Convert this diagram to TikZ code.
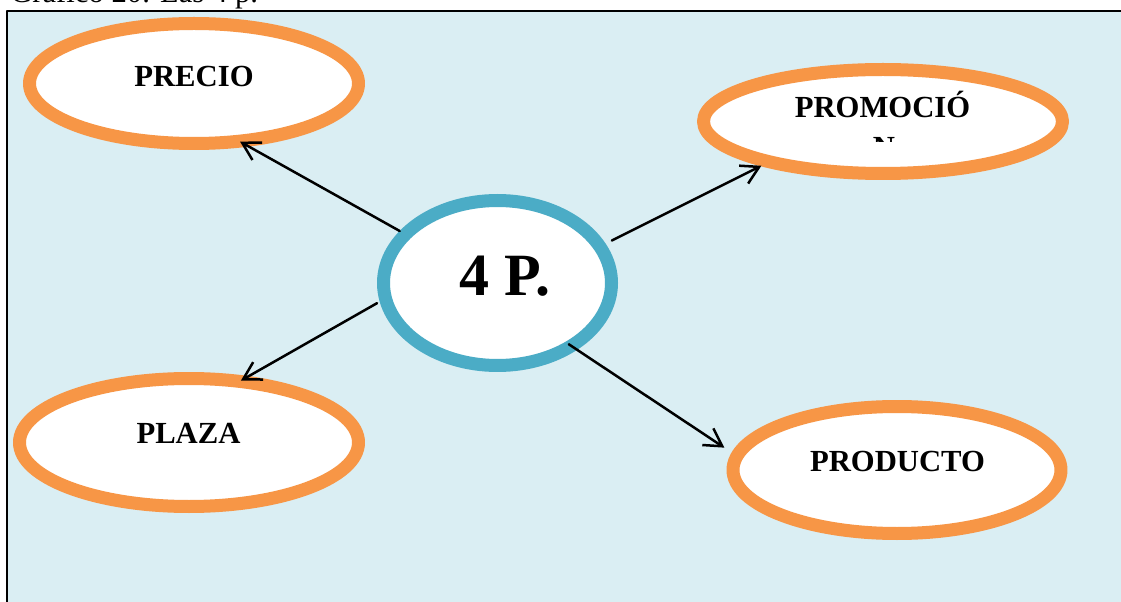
\documentclass[tikz,border=0pt]{standalone}
\usepackage{fontspec}
\setmainfont{Liberation Serif}
\usetikzlibrary{shapes.geometric,arrows.meta}
\definecolor{azulp}{HTML}{4BACC6}
\definecolor{naranja}{HTML}{F79646}
\definecolor{fondo}{HTML}{DAEEF3}
\newlength\pxu
\setlength\pxu{0.75pt}

\begin{document}
\begin{tikzpicture}[x=0.75pt, y=-0.75pt, line join=round,
	pe/.style={ellipse, draw=naranja, line width=13\pxu, fill=white, inner sep=0pt},
	centro/.style={ellipse, draw=azulp, line width=13\pxu, fill=white, inner sep=0pt,
		minimum width=228\pxu, minimum height=165\pxu},
	rotulo/.style={anchor=base, inner sep=0pt, font=\bfseries\fontsize{23}{28}\selectfont},
	flecha/.style={line width=2.5\pxu, line cap=round, -{Straight Barb[length=13pt, width=15pt]}}]
	
	\clip (0,0) rectangle (1121,602);
	
	% titulo y marco
	\node[anchor=base west, inner sep=0pt, font=\fontsize{23}{28}\selectfont] (titulo) at (10,3) {Gráfico 20. Las 4 p.};
	\filldraw[fill=fondo, draw=black, line width=2\pxu] (7,11) rectangle (1135,615);
	
	% elipses
	\node[pe, minimum width=329\pxu, minimum height=120\pxu] (precio) at (194,83.5) {};
	\node[pe, minimum width=359\pxu, minimum height=104\pxu] (promocion) at (883,121.5) {};
	\node[pe, minimum width=339\pxu, minimum height=128\pxu] (plaza) at (189,442.5) {};
	\node[pe, minimum width=328\pxu, minimum height=127\pxu] (producto) at (897,470) {};
	\node[centro] (cuatro) at (497.5,283) {};
	
	% textos
	\node[rotulo] (precio-t) at (194,87) {PRECIO};
	\node[rotulo] (plaza-t) at (188.5,443) {PLAZA};
	\node[rotulo] (producto-t) at (897.5,471.5) {PRODUCTO};
	\node[rotulo, font=\bfseries\fontsize{45}{54}\selectfont] (cuatro-t) at (505,296) {4 P.};
	\begin{scope}
		\clip (700,60) rectangle (1065,142);
		\node[rotulo] (promocion-t) at (882.5,118) {PROMOCIÓ};
		\node[rotulo] (promocion-n) at (884,158) {N};
	\end{scope}
	
	% flechas
	\draw[flecha, shorten >=-10\pxu] (cuatro.152) -- (precio.311);
	\draw[flecha, shorten <=7\pxu] (cuatro.20) -- (promocion.200);
	\draw[flecha, shorten <=3\pxu, shorten >=-9\pxu] (cuatro.189) -- (plaza.48);
	\draw[flecha, shorten <=-10\pxu, shorten >=9\pxu] (cuatro.320) -- (producto.174);
\end{tikzpicture}
\end{document}
